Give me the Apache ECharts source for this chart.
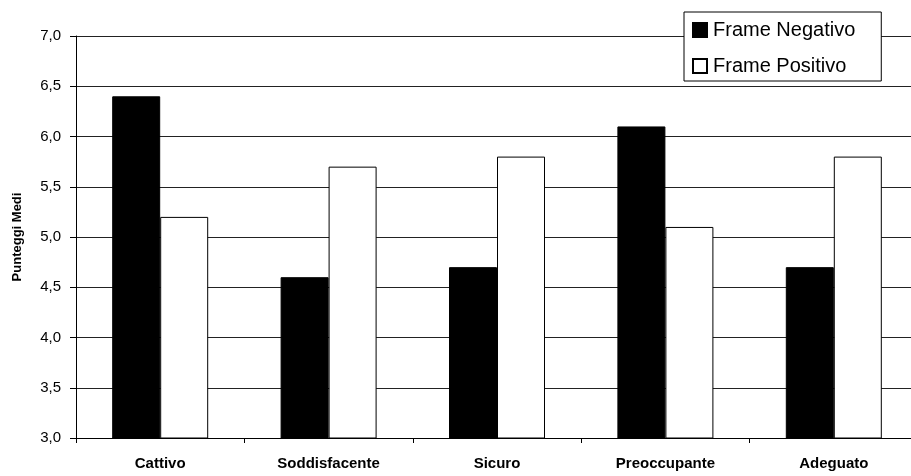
<!DOCTYPE html>
<html>
<head>
<meta charset="utf-8">
<script src="https://cdn.jsdelivr.net/npm/echarts@6/dist/echarts.min.js"></script>
<style>
  html, body { margin: 0; padding: 0; background: #fff; overflow: hidden; }
  /* the plot area runs a few pixels past the right edge of the window */
  #chart { width: 918px; height: 476px; }
</style>
</head>
<body>
<div id="chart"></div>
<script>
// Mean scores per adjective, by frame condition
const categories = ['Cattivo', 'Soddisfacente', 'Sicuro', 'Preoccupante', 'Adeguato'];
const frameNegativo = [6.4, 4.6, 4.7, 6.1, 4.7];
const framePositivo = [5.2, 5.7, 5.8, 5.1, 5.8];
const seriesNames = ['Frame Negativo', 'Frame Positivo'];
const yAxisTitle = 'Punteggi Medi';

const chart = echarts.init(document.getElementById('chart'));
const font = 'Arial, "Liberation Sans", sans-serif';

chart.setOption({
  animation: false,
  backgroundColor: '#fff',
  grid: { left: 76, top: 36, right: 0, height: 402 },
  legend: {
    orient: 'vertical',
    left: 684,
    top: 12,
    itemWidth: 14,
    itemHeight: 14,
    itemGap: 16,
    padding: [8, 26, 5, 8],
    backgroundColor: '#fff',
    borderColor: '#000',
    borderWidth: 1,
    borderRadius: 0,
    icon: 'rect',
    textStyle: { fontFamily: font, fontSize: 20, color: '#000', padding: [0, 0, 0, 1] },
    data: seriesNames
  },
  xAxis: {
    type: 'category',
    data: categories,
    axisLine: { lineStyle: { color: '#000', width: 1 } },
    axisTick: { show: true, length: 5, lineStyle: { color: '#000' } },
    axisLabel: { fontFamily: font, fontSize: 15, fontWeight: 'bold', color: '#000', margin: 18 }
  },
  yAxis: {
    type: 'value',
    min: 3,
    max: 7,
    interval: 0.5,
    name: yAxisTitle,
    nameLocation: 'middle',
    nameGap: 52,
    nameTextStyle: { fontFamily: font, fontSize: 13, fontWeight: 'bold', color: '#000' },
    axisLine: { show: true, lineStyle: { color: '#000' } },
    axisTick: { show: true, length: 6, lineStyle: { color: '#000' } },
    axisLabel: {
      fontFamily: font, fontSize: 15, color: '#000', margin: 15,
      formatter: v => v.toFixed(1).replace('.', ',')
    },
    splitLine: { show: true, lineStyle: { color: '#222', width: 1 } }
  },
  series: [
    {
      name: seriesNames[0],
      type: 'bar',
      data: frameNegativo,
      barWidth: 48,
      barGap: '0%',
      itemStyle: { color: '#000', borderColor: '#000', borderWidth: 1 }
    },
    {
      name: seriesNames[1],
      type: 'bar',
      data: framePositivo,
      barWidth: 48,
      barGap: '0%',
      itemStyle: { color: '#fff', borderColor: '#000', borderWidth: 1 }
    }
  ]
});
</script>
</body>
</html>
